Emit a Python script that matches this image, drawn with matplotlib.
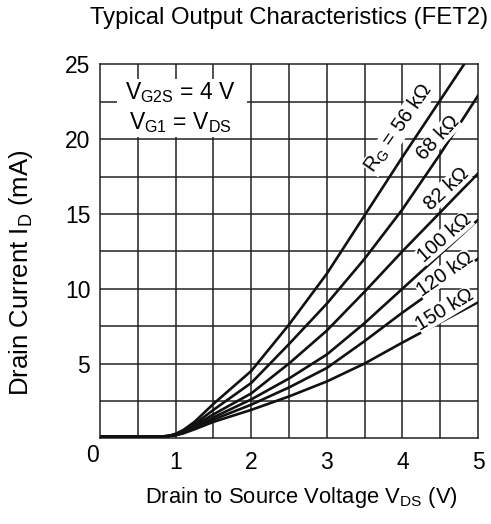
import matplotlib
matplotlib.use("Agg")
import matplotlib.pyplot as plt
from matplotlib.patches import Rectangle

plt.rcParams['font.family'] = ['Liberation Sans', 'DejaVu Sans']

# drain-source voltage (V)
vds = [0, 0.5, 0.8, 0.9, 1.0, 1.1, 1.25, 1.5, 1.75, 2.0, 2.5, 3.0, 3.5, 4.0, 4.5, 5.0]

# drain current (mA) per gate resistor
id_56k = [0.1, 0.1, 0.12, 0.15, 0.3, 0.55, 1.1, 2.3, 3.4, 4.5, 7.6, 11.0, 14.9, 18.8, 22.6, 26.4]
id_68k = [0.1, 0.1, 0.12, 0.15, 0.27, 0.48, 0.95, 1.9, 2.8, 3.7, 6.3, 9.0, 12.0, 15.3, 19.0, 22.9]
id_82k = [0.1, 0.1, 0.12, 0.15, 0.25, 0.43, 0.85, 1.6, 2.3, 3.0, 5.0, 7.2, 9.8, 12.5, 15.1, 17.7]
id_100k = [0.1, 0.1, 0.12, 0.15, 0.23, 0.4, 0.75, 1.4, 2.0, 2.6, 4.0, 5.6, 7.7, 10.0, 12.3, 14.6]
id_120k = [0.1, 0.1, 0.12, 0.15, 0.22, 0.37, 0.68, 1.25, 1.75, 2.25, 3.4, 4.7, 6.5, 8.4, 10.2, 12.0]
id_150k = [0.1, 0.1, 0.12, 0.15, 0.2, 0.33, 0.6, 1.1, 1.5, 1.9, 2.8, 3.8, 5.0, 6.4, 7.75, 9.1]

curves = [id_56k, id_68k, id_82k, id_100k, id_120k, id_150k]
curve_labels = ["R$_\\mathregular{G}$ = 56 k\u03a9", "68 k\u03a9", "82 k\u03a9",
                "100 k\u03a9", "120 k\u03a9", "150 k\u03a9"]
label_pos = [(3.95, 20.7, 55), (4.47, 20.1, 47), (4.59, 16.7, 43),
             (4.56, 13.4, 41), (4.56, 11.0, 35), (4.56, 8.6, 31)]

fig = plt.figure(figsize=(4.91, 5.24), dpi=100)
ax = fig.add_axes([0.2037, 0.1635, 0.7698, 0.7138])

ax.set_xlim(0, 5)
ax.set_ylim(0, 25)

# grid every 0.5 V / 2.5 mA
for v in [i * 0.5 for i in range(1, 10)]:
    ax.axvline(v, color="#222222", lw=1.1, zorder=1)
for i in [j * 2.5 for j in range(1, 10)]:
    ax.axhline(i, color="#222222", lw=1.1, zorder=1)
for s in ax.spines.values():
    s.set_color("#222222")
    s.set_linewidth(1.1)

for ys in curves:
    ax.plot(vds, ys, color="#111111", lw=1.9, zorder=3, clip_on=True)

for txt, (x, y, rot) in zip(curve_labels, label_pos):
    ax.text(x, y, txt, rotation=rot, ha="center", va="center", fontsize=14.5,
            rotation_mode="anchor", zorder=5,
            bbox=dict(facecolor="white", edgecolor="none", pad=0.05))

# condition box
ax.add_patch(Rectangle((0.22, 20.15), 1.72, 3.85, facecolor="white",
                       edgecolor="none", zorder=2))
ax.text(1.06, 23.1, "V$_\\mathregular{G2S}$ = 4 V", ha="center", va="center",
        fontsize=16.5, zorder=5)
ax.text(1.06, 21.1, "V$_\\mathregular{G1}$ = V$_\\mathregular{DS}$", ha="center",
        va="center", fontsize=16.5, zorder=5)

ax.set_xticks([1, 2, 3, 4, 5])
ax.set_yticks([5, 10, 15, 20, 25])
ax.tick_params(length=0, labelsize=16.5)
ax.tick_params(axis="x", pad=9)
ax.tick_params(axis="y", pad=7)
ax.text(-0.1, -0.4, "0", ha="center", va="top", fontsize=16.5)

fig.text(289 / 491, 1 - 18 / 524, "Typical Output Characteristics (FET2)",
         fontsize=17.2, ha="center", va="center")
fig.text(301 / 491, 1 - 497 / 524, "Drain to Source Voltage V$_\\mathregular{DS}$ (V)",
         fontsize=15.8, ha="center", va="center")
fig.text(21 / 491, 1 - 273 / 524, "Drain Current I$_\\mathregular{D}$ (mA)",
         fontsize=18.5, rotation=90, ha="center", va="center")

fig.savefig("out.png", dpi=100)
